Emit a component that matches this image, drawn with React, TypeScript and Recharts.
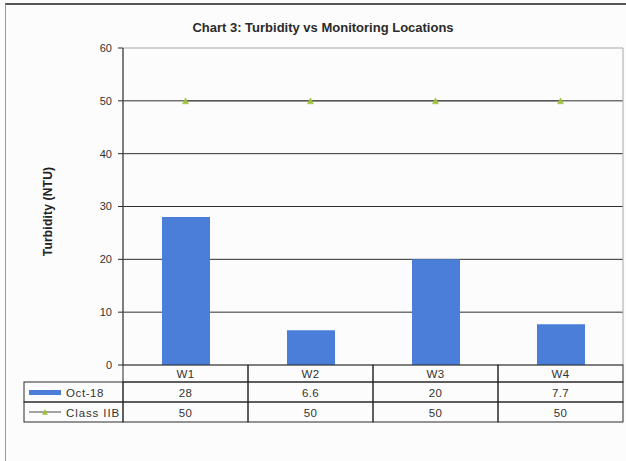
import React from 'react';
import { ComposedChart, Bar, Line, XAxis, YAxis, CartesianGrid, ReferenceArea } from 'recharts';

// Monitoring locations and turbidity readings (NTU)
const locations = ['W1', 'W2', 'W3', 'W4'];
const oct18 = [28, 6.6, 20, 7.7];
const classIIB = [50, 50, 50, 50];
const yTicks = [0, 10, 20, 30, 40, 50, 60];
const gridValues = [10, 20, 30, 40, 50];

const seriesNames = { bar: 'Oct-18', line: 'Class IIB' };

const data = locations.map((loc, i) => ({ loc, oct18: oct18[i], classIIB: classIIB[i] }));

// Layout
const W = 626;
const H = 461;
const PLOT_LEFT = 123;
const PLOT_RIGHT = 623;
const PLOT_TOP = 48;
const PLOT_BOTTOM = 365;
const CELL_W = (PLOT_RIGHT - PLOT_LEFT) / locations.length;
const HEAD_H = 17;
const ROW_H = 20;
const LEGEND_LEFT = 24;

const BAR_COLOR = '#4a7ed8';
const MARKER_COLOR = '#9dc23b';
const LINE_COLOR = '#4a4a4a';
const BORDER = '#2a2a2a';
const TEXT = '#333';
const FONT = 'Arial, "Liberation Sans", sans-serif';

const Triangle = ({ cx, cy, size = 6 }: { cx: number; cy: number; size?: number }) => (
  <polygon
    points={`${cx},${cy - size / 2} ${cx - size / 2},${cy + size / 2} ${cx + size / 2},${cy + size / 2}`}
    fill={MARKER_COLOR}
    stroke={MARKER_COLOR}
    strokeWidth={0.5}
  />
);

const renderDot = (props: any) => {
  const { cx, cy, index } = props;
  if (cx == null || cy == null) return <g key={`d-${index}`} />;
  return (
    <g key={`d-${index}`}>
      <Triangle cx={cx} cy={cy} />
    </g>
  );
};

// Each x tick draws its own column of the data table underneath the plot.
const TableTick = (props: any) => {
  const { x, payload } = props;
  const i = payload.index;
  const x0 = x - CELL_W / 2;
  const r1 = PLOT_BOTTOM + HEAD_H;
  const r2 = r1 + ROW_H;
  const textProps = { fontFamily: FONT, fontSize: 11.5, fill: TEXT, textAnchor: 'middle' as const, letterSpacing: 0.3 };
  return (
    <g>
      <rect x={x0} y={PLOT_BOTTOM} width={CELL_W} height={HEAD_H} fill="none" stroke={BORDER} />
      <rect x={x0} y={r1} width={CELL_W} height={ROW_H} fill="none" stroke={BORDER} />
      <rect x={x0} y={r2} width={CELL_W} height={ROW_H} fill="none" stroke={BORDER} />
      <text x={x} y={PLOT_BOTTOM + 13} {...textProps}>{payload.value}</text>
      <text x={x} y={r1 + 14.5} {...textProps}>{oct18[i]}</text>
      <text x={x} y={r2 + 14.5} {...textProps}>{classIIB[i]}</text>
      {i === 0 && (
        <g>
          <rect x={LEGEND_LEFT} y={r1} width={PLOT_LEFT - LEGEND_LEFT} height={ROW_H} fill="none" stroke={BORDER} />
          <rect x={LEGEND_LEFT} y={r2} width={PLOT_LEFT - LEGEND_LEFT} height={ROW_H} fill="none" stroke={BORDER} />
          <rect x={29} y={r1 + 8} width={32} height={5} fill={BAR_COLOR} />
          <text x={66} y={r1 + 14.5} fontFamily={FONT} fontSize={11.5} fill={TEXT} letterSpacing={0.6}>
            {seriesNames.bar}
          </text>
          <line x1={29} x2={61} y1={r2 + 10} y2={r2 + 10} stroke={LINE_COLOR} />
          <Triangle cx={45} cy={r2 + 10} size={5} />
          <text x={66} y={r2 + 14.5} fontFamily={FONT} fontSize={11.5} fill={TEXT} letterSpacing={0.9}>
            {seriesNames.line}
          </text>
        </g>
      )}
    </g>
  );
};

const YLabel = (props: any) => {
  const vb = props.viewBox || { x: 0, y: PLOT_TOP, height: PLOT_BOTTOM - PLOT_TOP };
  const cx = 48;
  const cy = vb.y + vb.height / 2 + 5;
  return (
    <text
      x={cx}
      y={cy}
      transform={`rotate(-90, ${cx}, ${cy})`}
      textAnchor="middle"
      dominantBaseline="central"
      fontFamily={FONT}
      fontSize={12}
      fontWeight="bold"
      letterSpacing={0.2}
      fill="#222"
    >
      Turbidity (NTU)
    </text>
  );
};

export default function App() {
  return (
    <div style={{ position: 'absolute', left: 0, top: 0, width: W, height: H, background: '#fcfcfc', overflow: 'hidden' }}>
      <div
        style={{
          position: 'absolute',
          left: 5,
          top: 3,
          width: W,
          height: H,
          borderTop: '2px solid #555',
          borderLeft: '1px solid #999',
        }}
      />
      <div
        style={{
          position: 'absolute',
          left: 0,
          top: 20,
          width: 646,
          textAlign: 'center',
          fontFamily: FONT,
          fontWeight: 'bold',
          fontSize: 13,
          color: '#2a2a2a',
        }}
      >
        Chart 3: Turbidity vs Monitoring Locations
      </div>
      <div style={{ position: 'absolute', left: 0, top: 0 }}>
        <ComposedChart
          width={W}
          height={H}
          data={data}
          margin={{ top: PLOT_TOP, right: W - PLOT_RIGHT, left: 0, bottom: 0 }}
        >
          <ReferenceArea y1={0} y2={60} fill="none" stroke="#a8a8a8" strokeWidth={1} ifOverflow="visible" />
          <CartesianGrid vertical={false} horizontalValues={gridValues} stroke="#2e2e2e" strokeWidth={1} />
          <XAxis
            dataKey="loc"
            height={H - PLOT_BOTTOM}
            axisLine={false}
            tickLine={false}
            interval={0}
            tick={<TableTick />}
          />
          <YAxis
            width={PLOT_LEFT}
            domain={[0, 60]}
            ticks={yTicks}
            interval={0}
            axisLine={{ stroke: BORDER }}
            tickLine={{ stroke: BORDER }}
            tickSize={5}
            tickMargin={6}
            tick={{ fill: TEXT, fontSize: 11, fontFamily: FONT }}
            label={<YLabel />}
          />
          <Bar dataKey="oct18" fill={BAR_COLOR} barSize={48} isAnimationActive={false} />
          <Line
            dataKey="classIIB"
            stroke={LINE_COLOR}
            strokeWidth={1}
            dot={renderDot}
            activeDot={false}
            isAnimationActive={false}
          />
        </ComposedChart>
      </div>
    </div>
  );
}
